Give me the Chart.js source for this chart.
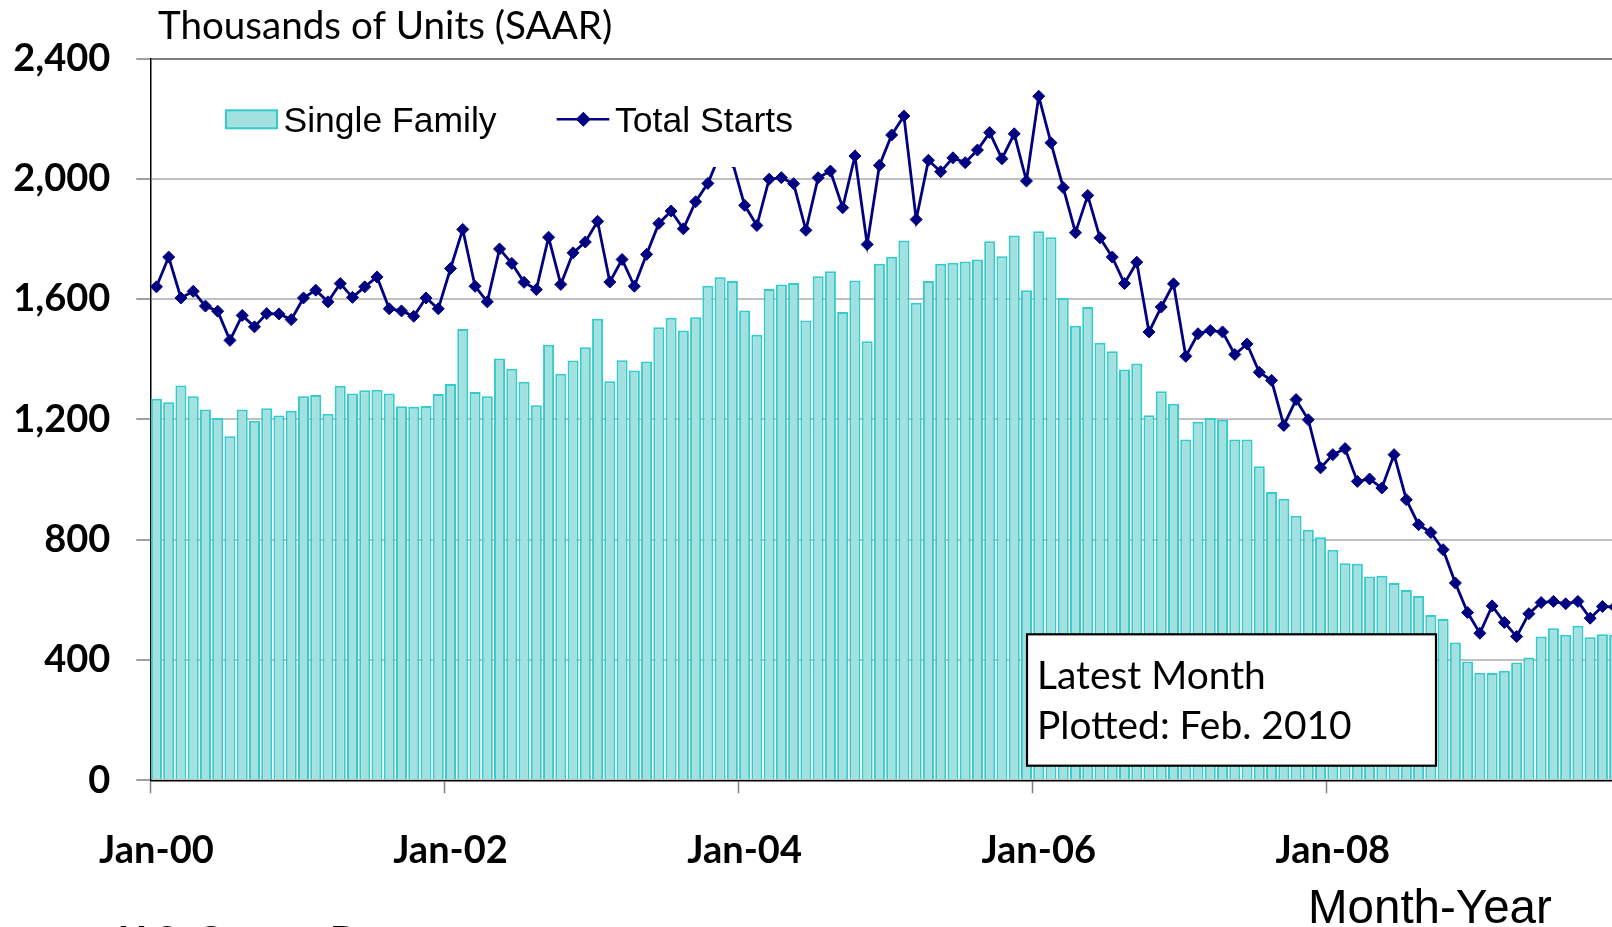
<!DOCTYPE html>
<html><head><meta charset="utf-8">
<script src="https://cdn.jsdelivr.net/npm/chart.js@4.4.1/dist/chart.umd.min.js"></script>
<style>
html,body{margin:0;padding:0;background:#fff;overflow:hidden;}
#wrap{position:absolute;left:0;top:0;width:1660px;height:927px;}
</style></head><body>
<div id="wrap"><canvas id="c" width="1660" height="927"></canvas></div>
<script>
// ---- data ----
const monthNames = ['Jan','Feb','Mar','Apr','May','Jun','Jul','Aug','Sep','Oct','Nov','Dec'];
const yearCodes = ['00','01','02','03','04','05','06','07','08','09','10'];
const lastYearMonths = 2; // data through Feb 2010
const xTickLabels = ['Jan-00','Jan-02','Jan-04','Jan-06','Jan-08'];
const yTickValues = [0,400,800,1200,1600,2000,2400];

const singleFamily = [
  1269,1257,1313,1277,1233,1205,1144,1233,1196,1237,1213,1229,
  1277,1281,1219,1312,1286,1297,1299,1286,1244,1242,1245,1285,
  1318,1501,1291,1277,1403,1369,1325,1247,1448,1352,1396,1440,
  1535,1327,1397,1363,1393,1507,1538,1496,1540,1645,1673,1660,
  1562,1482,1634,1649,1654,1529,1676,1693,1557,1662,1460,1718,
  1741,1795,1588,1660,1718,1721,1725,1732,1793,1743,1812,1630,
  1826,1806,1604,1512,1574,1455,1427,1366,1386,1214,1294,1252,
  1133,1192,1205,1199,1133,1133,1044,959,936,880,833,808,
  767,722,720,678,680,656,633,613,550,536,458,395,
  358,357,364,392,408,478,506,484,514,476,486,484,
  496,499
];
const totalStarts = [
  1641,1740,1604,1626,1577,1560,1463,1546,1508,1552,1551,1532,
  1604,1630,1591,1652,1606,1641,1674,1568,1561,1543,1604,1568,
  1702,1832,1643,1591,1767,1719,1656,1632,1806,1649,1754,1790,
  1859,1657,1732,1643,1749,1852,1893,1834,1924,1985,2083,2057,
  1912,1845,1999,2004,1984,1829,2004,2026,1904,2076,1782,2045,
  2146,2209,1865,2062,2024,2070,2054,2096,2154,2067,2150,1993,
  2275,2120,1971,1821,1945,1804,1740,1652,1723,1491,1574,1651,
  1410,1485,1496,1491,1416,1451,1357,1330,1180,1266,1199,1039,
  1083,1103,994,1002,972,1083,933,850,824,767,656,558,
  489,580,525,478,554,591,595,587,595,539,578,576,
  617,575
];

const categories = [];
yearCodes.forEach((y, yi) => {
  const n = yi === yearCodes.length - 1 ? lastYearMonths : 12;
  for (let m = 0; m < n; m++) categories.push(monthNames[m] + '-' + y);
});

// ---- styles ----
const barFill = '#A3E0E0';
const barBorder = '#33CCCC';
const lineColor = '#000080';
const calibriLike = 'Lato, "Open Sans", sans-serif';
const arialLike = '"Liberation Sans", Arial, sans-serif';

function fitSize(ctx, text, weight, family, width) {
  ctx.font = weight + ' 100px ' + family;
  return 100 * width / ctx.measureText(text).width;
}

const overlay = {
  id: 'overlay',
  afterDatasetsDraw(chart) {
    const ctx = chart.ctx;
    ctx.save();
    // legend background (hides the line beneath, as in the original)
    ctx.fillStyle = '#fff';
    ctx.fillRect(212, 84, 530, 83);
    // legend item 1: bar swatch
    ctx.fillStyle = barFill;
    ctx.fillRect(226, 110.3, 51, 18);
    ctx.strokeStyle = barBorder; ctx.lineWidth = 2;
    ctx.strokeRect(226, 110.3, 51, 18);
    let s = fitSize(ctx, 'Single Family', '', arialLike, 213);
    ctx.font = s.toFixed(1) + 'px ' + arialLike;
    ctx.fillStyle = '#000'; ctx.textBaseline = 'alphabetic'; ctx.textAlign = 'left';
    ctx.fillText('Single Family', 283.5, 131.7);
    // legend item 2: line + diamond
    ctx.strokeStyle = lineColor; ctx.lineWidth = 2.5;
    ctx.beginPath(); ctx.moveTo(556.7, 119.3); ctx.lineTo(609.3, 119.3); ctx.stroke();
    ctx.fillStyle = lineColor;
    ctx.beginPath();
    ctx.moveTo(583.3 - 7.5, 119.3); ctx.lineTo(583.3, 119.3 - 7.5);
    ctx.lineTo(583.3 + 7.5, 119.3); ctx.lineTo(583.3, 119.3 + 7.5); ctx.closePath(); ctx.fill();
    s = fitSize(ctx, 'Total Starts', '', arialLike, 178);
    ctx.font = s.toFixed(1) + 'px ' + arialLike;
    ctx.fillStyle = '#000';
    ctx.fillText('Total Starts', 615, 131.7);

    // annotation box
    ctx.fillStyle = '#fff';
    ctx.fillRect(1027, 634.3, 409, 131.4);
    ctx.strokeStyle = '#000'; ctx.lineWidth = 2.2;
    ctx.strokeRect(1027, 634.3, 409, 131.4);
    s = fitSize(ctx, 'Plotted: Feb. 2010', '', calibriLike, 315);
    ctx.font = s.toFixed(1) + 'px ' + calibriLike;
    ctx.fillStyle = '#000';
    ctx.fillText('Latest Month', 1037, 689.3);
    ctx.fillText('Plotted: Feb. 2010', 1037, 739.3);
    ctx.restore();
  },
  afterDraw(chart) {
    const ctx = chart.ctx;
    ctx.save();
    ctx.fillStyle = '#000'; ctx.textBaseline = 'alphabetic'; ctx.textAlign = 'left';
    let s = fitSize(ctx, 'Thousands of Units (SAAR)', '', calibriLike, 455);
    ctx.font = s.toFixed(1) + 'px ' + calibriLike;
    ctx.fillText('Thousands of Units (SAAR)', 158, 39.3);
    s = fitSize(ctx, 'Month-Year', '', arialLike, 244);
    ctx.font = s.toFixed(1) + 'px ' + arialLike;
    ctx.fillText('Month-Year', 1308, 922.7);
    s = fitSize(ctx, 'U.S. Census ', 'bold', calibriLike, 212);
    ctx.font = 'bold ' + s.toFixed(1) + 'px ' + calibriLike;
    ctx.fillText('U.S. Census Bureau', 118, 954);
    ctx.restore();
  }
};

const ctx = document.getElementById('c').getContext('2d');
new Chart(ctx, {
  data: {
    labels: categories,
    datasets: [
      {
        type: 'line', label: 'Total Starts', data: totalStarts, order: 0,
        borderColor: lineColor, borderWidth: 2.8, tension: 0,
        pointStyle: 'rectRot', pointRadius: 6, pointBackgroundColor: lineColor,
        pointBorderColor: lineColor, pointBorderWidth: 1
      },
      {
        type: 'bar', label: 'Single Family', data: singleFamily, order: 1,
        backgroundColor: barFill, borderColor: barBorder, borderWidth: 2,
        categoryPercentage: 1.0, barPercentage: 0.9
      }
    ]
  },
  options: {
    responsive: false, animation: false, devicePixelRatio: 1,
    layout: { padding: { top: 58.6, right: 14.7, left: 0, bottom: 0 } },
    plugins: { legend: { display: false }, tooltip: { enabled: false }, title: { display: false } },
    scales: {
      x: {
        type: 'category', offset: true,
        grid: {
          offset: true, drawOnChartArea: false, drawTicks: true, tickLength: 13,
          tickColor: (c) => (c.index % 24 === 0 ? '#808080' : 'rgba(0,0,0,0)'), tickWidth: 1.5
        },
        border: { color: '#000', width: 1.5 },
        ticks: {
          autoSkip: false, maxRotation: 0, minRotation: 0, padding: 35,
          color: '#000', font: { family: calibriLike, weight: 'bold', size: 38 },
          callback: function(v, i) { const l = this.getLabelForValue(v); return xTickLabels.includes(l) ? l : ''; }
        },
        afterFit: (s) => { s.height = 146.7; s.paddingLeft = 0; s.paddingRight = 0; }
      },
      y: {
        min: 0, max: 2400,
        afterBuildTicks: (s) => { s.ticks = yTickValues.map(v => ({ value: v })); },
        grid: {
          color: (c) => (c.tick && c.tick.value === 2400 ? '#808080' : '#C0C0C0'),
          lineWidth: 2, tickLength: 14, tickColor: '#808080', tickWidth: 1.5
        },
        border: { color: '#000', width: 1.5 },
        ticks: {
          padding: 26, color: '#000', font: { family: calibriLike, weight: 'bold', size: 38 },
          callback: (v) => Number(v).toLocaleString('en-US')
        },
        afterFit: (s) => { s.width = 150.3; }
      }
    }
  },
  plugins: [overlay]
});
</script>
</body></html>
